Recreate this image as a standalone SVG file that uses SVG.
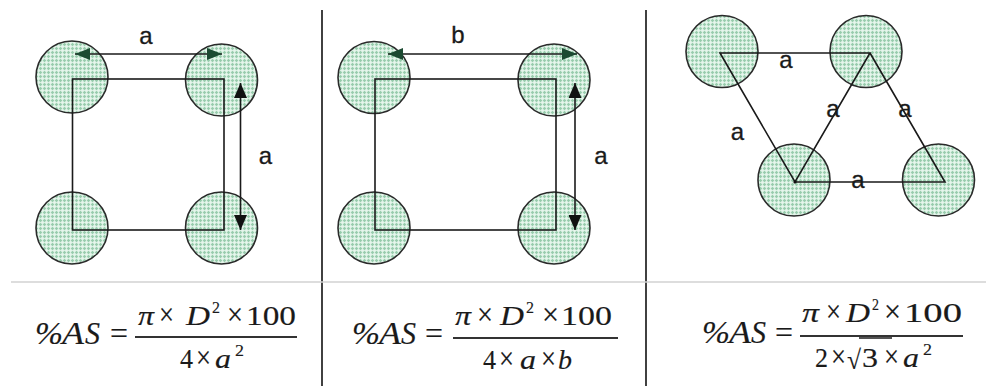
<svg xmlns="http://www.w3.org/2000/svg" width="986" height="386" viewBox="0 0 986 386">
<style>
.dot{stroke:#2a2a2a;stroke-width:1.6;fill:url(#mesh)}
.ln{stroke:#1a1a1a;stroke-width:1.6;fill:none}
.lbl{font-family:"Liberation Sans",Arial,sans-serif;font-size:24px;fill:#1a1a1a;stroke:#1a1a1a;stroke-width:0.3;text-anchor:middle}
.f text{font-family:"Liberation Serif","Times New Roman",serif;font-size:27px;fill:#1a1a1a;stroke:#1a1a1a;stroke-width:0.15}
.f .big{font-size:31px}
.f .i{font-style:italic}
.f .sup{font-size:17px}
.f .x{font-size:31px}
.bar{stroke:#333;stroke-width:2.2}
.div{stroke:#111;stroke-width:1.6}
</style>
<defs>
<pattern id="mesh" width="4" height="4" patternUnits="userSpaceOnUse">
<rect width="4" height="4" fill="#cbe9d7"/>
<path d="M0 0.5H4M0.5 0V4" stroke="#96cbac" stroke-width="0.9"/>
<path d="M0 2.5H4M2.5 0V4" stroke="#e9f6ee" stroke-width="0.8"/>
</pattern>
<marker id="ag" markerUnits="userSpaceOnUse" markerWidth="15" markerHeight="12" refX="15" refY="6" orient="auto-start-reverse"><path d="M0,0 L15,6 L0,12 z" fill="#1c4a32"/></marker>
<marker id="ak" markerUnits="userSpaceOnUse" markerWidth="15" markerHeight="13" refX="15" refY="6.5" orient="auto-start-reverse"><path d="M0,0 L15,6.5 L0,13 z" fill="#111"/></marker>
</defs>
<rect width="986" height="386" fill="#fff"/>

<g id="frame">
<line class="div" x1="322" y1="10" x2="322" y2="386"/>
<line class="div" x1="646" y1="10" x2="646" y2="386"/>
<line x1="11" y1="282" x2="986" y2="282" stroke="#d2d2d2" stroke-width="1.5"/>
</g>

<g id="p1-tl"><circle class="dot" cx="72" cy="77" r="36"/></g>
<g id="p1-tr"><circle class="dot" cx="221.5" cy="80" r="36"/></g>
<g id="p1-bl"><circle class="dot" cx="72" cy="228" r="36"/></g>
<g id="p1-br"><circle class="dot" cx="221.5" cy="228" r="36"/></g>

<g id="p2-tl"><circle class="dot" cx="374" cy="77.5" r="36"/></g>
<g id="p2-tr"><circle class="dot" cx="554" cy="80" r="36"/></g>
<g id="p2-bl"><circle class="dot" cx="374" cy="228" r="36"/></g>
<g id="p2-br"><circle class="dot" cx="554" cy="228" r="36"/></g>

<g id="p3-tl"><circle class="dot" cx="722" cy="51.5" r="36"/></g>
<g id="p3-tr"><circle class="dot" cx="866" cy="51.5" r="36"/></g>
<g id="p3-bl"><circle class="dot" cx="794" cy="180" r="36"/></g>
<g id="p3-br"><circle class="dot" cx="938.5" cy="180" r="36"/></g>

<g id="connectors">
<rect class="ln" x="72.5" y="79" width="151.5" height="151"/>
<line class="ln" x1="75" y1="54" x2="222" y2="54" marker-start="url(#ag)" marker-end="url(#ag)"/>
<line class="ln" x1="240.5" y1="83" x2="240.5" y2="230" marker-start="url(#ak)" marker-end="url(#ak)"/>

<rect class="ln" x="375" y="79" width="181" height="151"/>
<line class="ln" x1="388" y1="54" x2="577" y2="54" marker-start="url(#ag)" marker-end="url(#ag)"/>
<line class="ln" x1="575" y1="83" x2="575" y2="230" marker-start="url(#ak)" marker-end="url(#ak)"/>

<path class="ln" d="M720,53 L870,53 L795,182 Z M870,53 L945,182 L795,182"/>
<circle cx="795" cy="182" r="1.6" fill="#111"/>
</g>

<g id="labels">
<text class="lbl" x="146" y="44">a</text>
<text class="lbl" x="265.5" y="164">a</text>
<text class="lbl" x="458" y="43">b</text>
<text class="lbl" x="601" y="164">a</text>
<text class="lbl" x="786" y="68">a</text>
<text class="lbl" x="833" y="117">a</text>
<text class="lbl" x="905" y="117">a</text>
<text class="lbl" x="737.5" y="140">a</text>
<text class="lbl" x="858" y="188">a</text>
</g>

<g id="formula1" class="f">
<text class="big i" x="35" y="344" textLength="28" lengthAdjust="spacingAndGlyphs">%</text>
<text class="big i" x="62" y="344" textLength="22" lengthAdjust="spacingAndGlyphs">A</text>
<text class="big i" x="85" y="344" textLength="15" lengthAdjust="spacingAndGlyphs">S</text>
<text class="big" x="110" y="344" textLength="18" lengthAdjust="spacingAndGlyphs">=</text>
<line class="bar" x1="135" y1="337" x2="297" y2="337"/>
<text class="i" x="138" y="325" textLength="16" lengthAdjust="spacingAndGlyphs">π</text>
<text class="x" x="159" y="325" textLength="15" lengthAdjust="spacingAndGlyphs">×</text>
<text class="i" x="186" y="325" textLength="24" lengthAdjust="spacingAndGlyphs">D</text>
<text class="sup" x="212" y="313" textLength="8" lengthAdjust="spacingAndGlyphs">2</text>
<text class="x" x="227" y="325" textLength="16" lengthAdjust="spacingAndGlyphs">×</text>
<text x="246" y="325" textLength="50" lengthAdjust="spacingAndGlyphs">100</text>
<text x="180" y="368" textLength="13" lengthAdjust="spacingAndGlyphs">4</text>
<text class="x" x="196" y="368" textLength="15" lengthAdjust="spacingAndGlyphs">×</text>
<text class="i" x="215" y="368" textLength="16" lengthAdjust="spacingAndGlyphs">a</text>
<text class="sup" x="235" y="356" textLength="9" lengthAdjust="spacingAndGlyphs">2</text>
</g>

<g id="formula2" class="f">
<text class="big i" x="352" y="344" textLength="28" lengthAdjust="spacingAndGlyphs">%</text>
<text class="big i" x="379" y="344" textLength="22" lengthAdjust="spacingAndGlyphs">A</text>
<text class="big i" x="401" y="344" textLength="15" lengthAdjust="spacingAndGlyphs">S</text>
<text class="big" x="425" y="344" textLength="18" lengthAdjust="spacingAndGlyphs">=</text>
<line class="bar" x1="453" y1="338" x2="618" y2="338"/>
<text class="i" x="455" y="325" textLength="16" lengthAdjust="spacingAndGlyphs">π</text>
<text class="x" x="477" y="325" textLength="16" lengthAdjust="spacingAndGlyphs">×</text>
<text class="i" x="500" y="325" textLength="24" lengthAdjust="spacingAndGlyphs">D</text>
<text class="sup" x="526" y="313" textLength="8" lengthAdjust="spacingAndGlyphs">2</text>
<text class="x" x="542" y="325" textLength="17" lengthAdjust="spacingAndGlyphs">×</text>
<text x="561" y="325" textLength="51" lengthAdjust="spacingAndGlyphs">100</text>
<text x="483" y="369" textLength="13" lengthAdjust="spacingAndGlyphs">4</text>
<text class="x" x="499" y="369" textLength="15" lengthAdjust="spacingAndGlyphs">×</text>
<text class="i" x="520" y="369" textLength="16" lengthAdjust="spacingAndGlyphs">a</text>
<text class="x" x="541" y="369" textLength="15" lengthAdjust="spacingAndGlyphs">×</text>
<text class="i" x="558" y="369" textLength="14" lengthAdjust="spacingAndGlyphs">b</text>
</g>

<g id="formula3" class="f">
<text class="big i" x="702" y="343" textLength="28" lengthAdjust="spacingAndGlyphs">%</text>
<text class="big i" x="729" y="343" textLength="22" lengthAdjust="spacingAndGlyphs">A</text>
<text class="big i" x="751" y="343" textLength="15" lengthAdjust="spacingAndGlyphs">S</text>
<text class="big" x="775" y="343" textLength="18" lengthAdjust="spacingAndGlyphs">=</text>
<line class="bar" x1="800" y1="336" x2="963" y2="336"/>
<text class="i" x="802" y="322" textLength="17" lengthAdjust="spacingAndGlyphs">π</text>
<text class="x" x="826" y="322" textLength="15" lengthAdjust="spacingAndGlyphs">×</text>
<text class="i" x="846" y="322" textLength="24" lengthAdjust="spacingAndGlyphs">D</text>
<text class="sup" x="872" y="310" textLength="7" lengthAdjust="spacingAndGlyphs">2</text>
<text class="x" x="884" y="322" textLength="17" lengthAdjust="spacingAndGlyphs">×</text>
<text x="904" y="322" textLength="58" lengthAdjust="spacingAndGlyphs">100</text>
<text x="815" y="367" textLength="13" lengthAdjust="spacingAndGlyphs">2</text>
<text class="x" x="831" y="367" textLength="15" lengthAdjust="spacingAndGlyphs">×</text>
<text x="847" y="369" textLength="14" lengthAdjust="spacingAndGlyphs">√</text>
<line x1="859" y1="338" x2="892" y2="338" stroke="#1a1a1a" stroke-width="1.4"/>
<text x="862" y="367" textLength="16" lengthAdjust="spacingAndGlyphs">3</text>
<text class="x" x="884" y="367" textLength="15" lengthAdjust="spacingAndGlyphs">×</text>
<text class="i" x="903" y="367" textLength="16" lengthAdjust="spacingAndGlyphs">a</text>
<text class="sup" x="923" y="355" textLength="9" lengthAdjust="spacingAndGlyphs">2</text>
</g>
</svg>
